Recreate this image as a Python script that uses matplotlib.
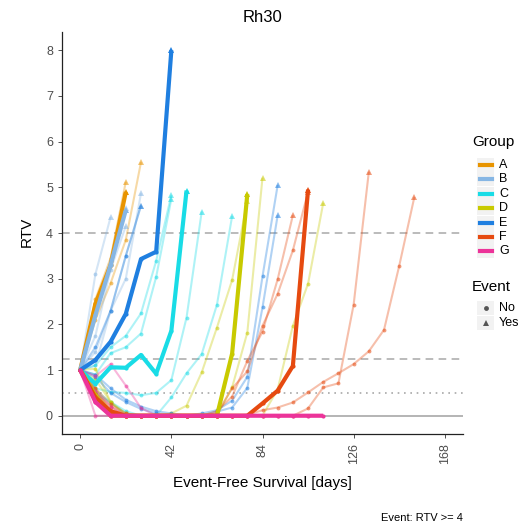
import numpy as np
import matplotlib
matplotlib.use('Agg')
import matplotlib.pyplot as plt
from matplotlib.lines import Line2D
from matplotlib.patches import Rectangle

plt.rcParams['font.family'] = ['Liberation Sans', 'DejaVu Sans']

# Messtage (woechentlich)
days = [0, 7, 14, 21, 28, 35, 42, 49, 56, 63, 70, 77, 84, 91, 98, 105,
        112, 119, 126, 133, 140, 147, 154]

groups = ['A', 'B', 'C', 'D', 'E', 'F', 'G']
colors = ['#E89400', '#86B6E4', '#19DCE6', '#C8CA00', '#1F7FE0', '#E64A10', '#EC3399']

# Gruppenverlauf (dicke Linien)
A_med = [1.0, 2.45, 3.3, 4.9]
B_med = [1.0, 2.2, 3.3, 4.5]
C_med = [1.0, 0.7, 1.06, 1.05, 1.33, 0.92, 1.86, 4.93]
D_med = [1.0, 0.45, 0, 0, 0, 0, 0, 0, 0, 0, 1.36, 4.85]
E_med = [1.0, 1.22, 1.62, 2.23, 3.43, 3.59, 8.0]
F_med = [1.0, 0.4, 0.1, 0, 0, 0, 0, 0, 0, 0, 0, 0, 0.27, 0.55, 1.09, 4.95]
G_med = [1.0, 0.3, 0, 0, 0, 0, 0, 0, 0, 0, 0, 0, 0, 0, 0, 0, 0]

# einzelne Tumore (duenne Linien)
A_ind = [
    [1.0, 2.55, 3.45, 5.12],
    [1.0, 2.1, 2.9, 3.85, 5.55],
]
B_ind = [
    [1.0, 3.1, 4.35],
    [1.0, 2.3, 3.4, 4.55],
    [1.0, 1.75, 3.2, 4.15],
    [1.0, 1.4, 2.3, 3.5, 4.6],
    [1.0, 1.1, 2.3, 3.0, 4.87],
]
C_ind = [
    [1.0, 1.1, 1.5, 1.75, 2.24, 3.39, 4.83],
    [1.0, 0.9, 1.37, 1.5, 1.8, 3.04, 4.75],
    [1.0, 0.6, 0.52, 0.5, 0.45, 0.5, 0.78, 2.15, 4.47],
    [1.0, 0.55, 0.3, 0.1, 0, 0, 0.4, 0.93, 1.35, 2.43, 4.37],
    [1.0, 0.5, 0.28, 0.05, 0],
]
D_ind = [
    [1.0, 0.6, 0.1, 0, 0, 0, 0, 0, 0, 0, 0.62, 1.82, 5.21],
    [1.0, 0.8, 0.3, 0.05, 0, 0, 0.05, 0.22, 0.95, 1.93, 2.97, 4.7],
    [1.0, 0.5, 0.1, 0, 0, 0, 0, 0, 0, 0, 0, 0, 0, 0.58, 1.97, 2.89, 4.66],
    [1.0, 1.03, 0.3, 0],
]
E_ind = [
    [1.0, 1.5, 2.3, 3.5, 4.6],
    [1.0, 0.85, 0.5, 0.3, 0.15, 0.05, 0, 0, 0, 0.09, 0.18, 0.61, 2.37, 4.39],
    [1.0, 0.9, 0.6, 0.35, 0.2, 0.1, 0.05, 0, 0.05, 0.12, 0.33, 0.85, 3.05, 5.05],
]
F_ind = [
    [1.0, 0.5, 0.2, 0, 0, 0, 0, 0, 0, 0.1, 0.42, 1.2, 1.84, 2.99, 4.39],
    [1.0, 0.6, 0.25, 0.05, 0, 0, 0, 0, 0, 0.05, 0.6, 0.97, 1.97, 2.67, 3.62, 4.9],
    [1.0, 0.4, 0.05, 0, 0, 0, 0, 0, 0, 0, 0, 0, 0, 0, 0,
     0.16, 0.62, 0.71, 2.43, 5.34],
    [1.0, 0.5, 0.1, 0, 0, 0, 0, 0, 0, 0, 0, 0.02, 0.12, 0.18, 0.29, 0.51,
     0.74, 0.93, 1.13, 1.41, 1.88, 3.28, 4.79],
]
G_ind = [
    [1.0, 0, 0, 0],
    [1.0, 0.87, 1.13, 0.66, 0.17, 0, 0],
    [1.0, 0.55, 0.2, 0, 0],
]

meds = [A_med, B_med, C_med, D_med, E_med, F_med, G_med]
inds = [A_ind, B_ind, C_ind, D_ind, E_ind, F_ind, G_ind]

fig = plt.figure(figsize=(5.22, 5.25), dpi=100)
ax = fig.add_axes([62 / 522, 1 - 434 / 525, (463 - 62) / 522, (434 - 32) / 525])

# Referenzlinien
ax.axhline(0, color='#A8A8A8', lw=1.2, zorder=1)
ax.axhline(4, color='#A8A8A8', lw=1.1, ls=(0, (5, 3.5)), zorder=1)
ax.axhline(1.25, color='#A8A8A8', lw=1.1, ls=(0, (5, 3.5)), zorder=1)
ax.axhline(0.5, color='#A8A8A8', lw=1.2, ls=(0, (1, 2.8)), zorder=1)


def draw(v, col, lw, la, ma, ms, z):
    x = np.array(days[:len(v)])
    y = np.array(v, dtype=float)
    ev = y >= 4
    ax.plot(x, y, color=col, lw=lw, alpha=la, zorder=z, solid_capstyle='butt')
    ax.plot(x[~ev], y[~ev], 'o', color=col, ms=ms, mew=0, alpha=ma, zorder=z)
    ax.plot(x[ev], y[ev], '^', color=col, ms=ms * 1.5, mew=0, alpha=ma, zorder=z)


for col, series in zip(colors, inds):
    for v in series:
        draw(v, col, 1.5, 0.35, 0.55, 2.8, 2)

for col, v in zip(colors, meds):
    draw(v, col, 3.0, 1.0, 1.0, 3.0, 3)

ax.set_xlim(-8.4, 176.4)
ax.set_ylim(-0.4, 8.4)
ax.set_xticks([0, 42, 84, 126, 168])
ax.set_yticks(range(9))
ax.tick_params(axis='x', labelrotation=90)
ax.tick_params(colors='#333333', labelcolor='#4D4D4D', labelsize=9, length=3, width=0.6)
for s in ['top', 'right']:
    ax.spines[s].set_visible(False)
for s in ['left', 'bottom']:
    ax.spines[s].set_color('#222222')
    ax.spines[s].set_linewidth(0.9)

fig.text(262 / 522, 1 - 18 / 525, 'Rh30', ha='center', va='center', fontsize=12)
fig.text(262 / 522, 1 - 483 / 525, 'Event-Free Survival [days]', ha='center', va='center', fontsize=11)
fig.text(27 / 522, 1 - 232 / 525, 'RTV', ha='center', va='center', fontsize=11, rotation=90)
fig.text(463 / 522, 1 - 518 / 525, 'Event: RTV >= 4', ha='right', va='center', fontsize=8)

# Legende von Hand
def px(x, y):
    return x / 522, 1 - y / 525

fig.text(*px(472, 142), 'Group', ha='left', va='center', fontsize=11)
for i, (g, col) in enumerate(zip(groups, colors)):
    yy = 165 + i * 14.4
    fig.patches.append(Rectangle(px(477, yy + 7), 17 / 522, 14 / 525, transform=fig.transFigure,
                                 facecolor='#F2F2F2', edgecolor='none'))
    fig.lines.append(Line2D([px(480, 0)[0], px(492, 0)[0]], [px(0, yy)[1]] * 2,
                            transform=fig.transFigure, color=col, lw=3))
    fig.text(*px(499, yy), g, ha='left', va='center', fontsize=9)

fig.text(*px(472, 287), 'Event', ha='left', va='center', fontsize=11)
for i, (lab, m) in enumerate([('No', 'o'), ('Yes', '^')]):
    yy = 308 + i * 15
    fig.patches.append(Rectangle(px(477, yy + 7), 17 / 522, 14 / 525, transform=fig.transFigure,
                                 facecolor='#F2F2F2', edgecolor='none'))
    fig.lines.append(Line2D([px(485.5, 0)[0]], [px(0, yy)[1]], transform=fig.transFigure,
                            marker=m, ms=3.5 if m == 'o' else 4.5, mew=0, color='#555555', ls='none'))
    fig.text(*px(499, yy), lab, ha='left', va='center', fontsize=9)

fig.savefig('out.png', dpi=100)
